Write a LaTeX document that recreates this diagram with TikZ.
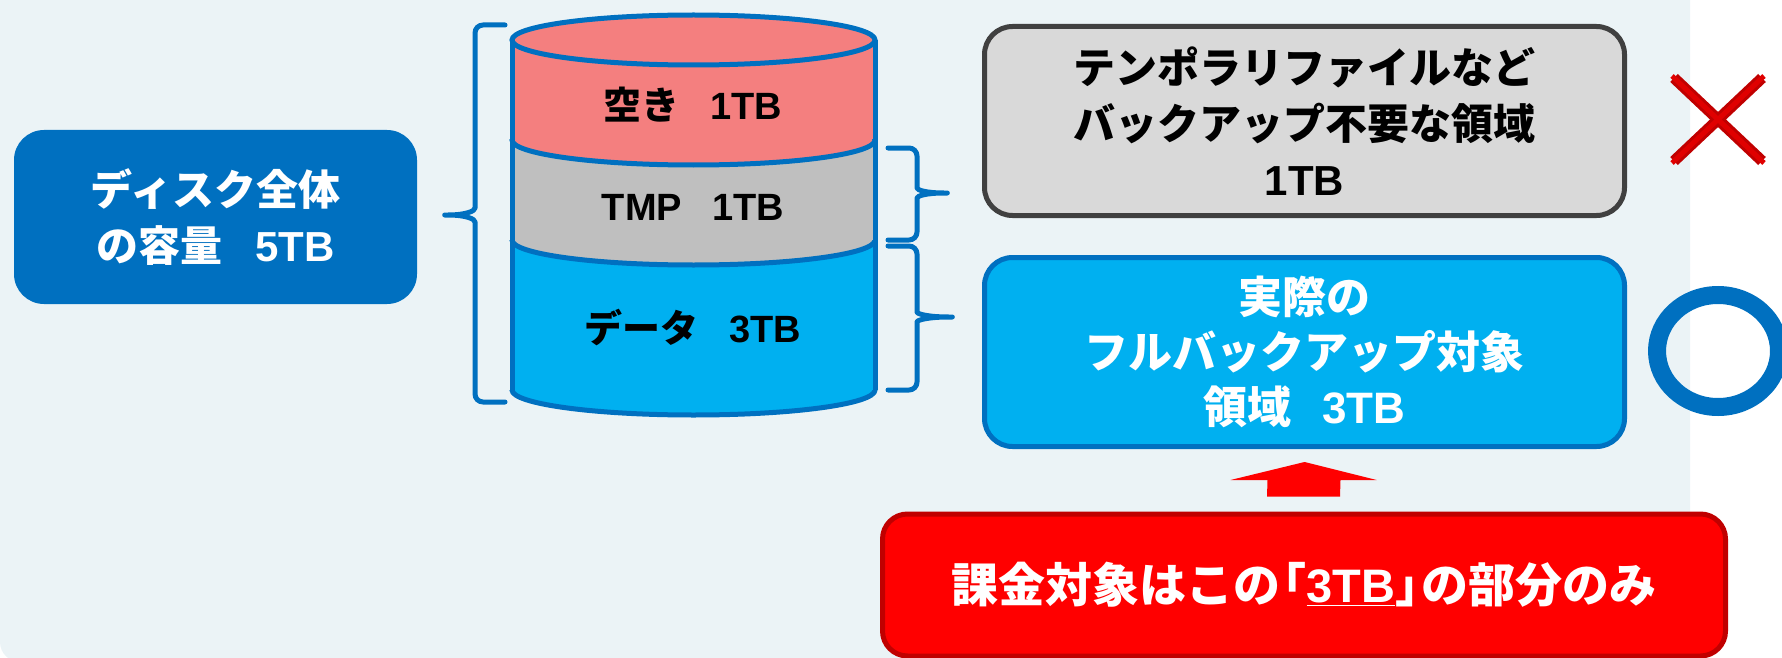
\documentclass[tikz,border=0pt]{standalone}
\usepackage{fontspec}
\setmainfont{Liberation Sans}
\newfontfamily\jp{Noto Sans CJK JP}
\usetikzlibrary{calc}
\definecolor{panel}{RGB}{235,243,246}
\definecolor{dblue}{RGB}{0,112,192}
\definecolor{lblue}{RGB}{0,176,240}
\definecolor{pinkband}{RGB}{244,127,127}
\definecolor{tmpgray}{RGB}{191,191,191}
\definecolor{boxgray}{RGB}{217,217,217}
\definecolor{edgegray}{RGB}{64,64,64}
\definecolor{dred}{RGB}{192,0,0}
\definecolor{bred}{RGB}{255,0,0}
\newcommand\J[1]{{\jp #1}}
\tikzset{
  boxtxt/.style={font=\bfseries\fontsize{42}{56}\selectfont, align=center},
  cyltxt/.style={font=\bfseries\fontsize{38}{44}\selectfont, align=center, text=black},
  cylline/.style={draw=dblue, line width=5pt},
  brk/.style={draw=dblue, line width=5pt, line cap=round, line join=round},
  infobox/.style={boxtxt, rounded corners=28pt, line width=5pt, minimum width=640pt, minimum height=189pt, inner sep=0pt}
}
\begin{document}
\begin{tikzpicture}[x=1pt,y=-1pt]
\useasboundingbox (0,0) rectangle (1782,658);
% background panel
\fill[panel] (0,0) -- (1690,0) -- (1690,662) -- (20,662) .. controls (9,662) and (0,653) .. (0,642) -- cycle;

% cylinder fills (layered)
\fill[lblue] (512,240) rectangle (875,390);
\fill[lblue] (693.5,390) ellipse [x radius=181.5, y radius=25];
\fill[tmpgray] (512,140) rectangle (875,240);
\fill[tmpgray] (693.5,240) ellipse [x radius=181.5, y radius=25];
\fill[pinkband] (512,40) rectangle (875,140);
\fill[pinkband] (693.5,140) ellipse [x radius=181.5, y radius=25];
\fill[pinkband] (693.5,40) ellipse [x radius=181.5, y radius=25];
% cylinder outlines
\draw[cylline] (512,40) -- (512,390);
\draw[cylline] (875,40) -- (875,390);
\draw[cylline] (693.5,40) ellipse [x radius=181.5, y radius=25];
\begin{scope}
  \clip (500,140) rectangle (890,175);
  \draw[cylline] (693.5,140) ellipse [x radius=181.5, y radius=25];
\end{scope}
\begin{scope}
  \clip (500,240) rectangle (890,275);
  \draw[cylline] (693.5,240) ellipse [x radius=181.5, y radius=25];
\end{scope}
\begin{scope}
  \clip (500,390) rectangle (890,425);
  \draw[cylline] (693.5,390) ellipse [x radius=181.5, y radius=25];
\end{scope}

% cylinder labels
\node[cyltxt] (free) at (693,105) {\J{空き}\hspace{0.8em}1TB};
\node[cyltxt] (tmp) at (693,207) {TMP\hspace{0.8em}1TB};
\node[cyltxt] (data) at (693,328) {\J{データ}\hspace{0.8em}3TB};

% left box
\node[boxtxt, text=white, fill=dblue, rounded corners=30pt, minimum width=403pt, minimum height=174pt, inner sep=0pt] (disk) at (215.5,217) {\J{ディスク全体}\\\J{の容量}\hspace{0.8em}5TB};

% left bracket
\coordinate (lbt) at (505,25);
\coordinate (lbb) at (505,402);
\coordinate (lbtip) at (440,215);
\draw[brk, rounded corners=8pt] (lbt) -- (475,25) -- (475,200)
  .. controls (475,211) and (466,215) .. (lbtip)
  .. controls (466,215) and (475,219) .. (475,230) -- (475,402) -- (lbb);

% right brackets
\coordinate (rbtip1) at (952,193);
\coordinate (rbtip2) at (957,317);
\draw[brk, rounded corners=8pt] (888,148) -- (917,148) -- (917,180)
  .. controls (917,190) and (926,193) .. (rbtip1)
  .. controls (926,193) and (917,196) .. (917,206) -- (917,240) -- (888,240);
\draw[brk, rounded corners=8pt] (888,246) -- (917,246) -- (917,304)
  .. controls (917,314) and (928,317) .. (rbtip2)
  .. controls (928,317) and (917,320) .. (917,330) -- (917,390) -- (888,390);

% right boxes
\node[infobox, fill=boxgray, draw=edgegray, text=black] (tmpbox) at (1304.5,121)
  {\J{テンポラリファイルなど}\\\J{バックアップ不要な領域}\\1TB};
\node[infobox, fill=lblue, draw=dblue, text=white, font=\bfseries\fontsize{44}{55}\selectfont] (full) at (1304.5,352)
  {\J{実際の}\\\J{フルバックアップ対象}\\\J{領域}\hspace{0.7em}3TB};

% billing box
\node[boxtxt, text=white, fill=bred, draw=dred, line width=5pt, rounded corners=25pt, minimum width=843pt, minimum height=142pt, inner sep=0pt, font=\bfseries\fontsize{47}{56}\selectfont] (bill) at (1304,585)
  {\J{課金対象はこの}\kern-0.45em\J{「}\underline{3TB}\J{」}\kern-0.45em\J{の部分のみ}};

% block arrow from bill to full
\coordinate (T) at ($(full.south)+(0,13)$);
\coordinate (B) at ($(bill.north)+(0,-15)$);
\fill[bred] (T) -- ($(T)+(72,18)$) -- ($(T)+(36,18)$) -- ($(B)+(36,0)$) -- ($(B)+(-37,0)$) -- ($(T)+(-37,18)$) -- ($(T)+(-74,18)$) -- cycle;

% cross mark
\draw[dred, line width=11pt] (1674,78) -- (1762,161);
\draw[dred, line width=11pt] (1762,78) -- (1674,161);
\draw[red!88!black, line width=5pt] (1672,76) -- (1764,163);
\draw[red!88!black, line width=5pt] (1764,76) -- (1672,163);

% circle mark
\draw[dblue, line width=18pt] (1718,351) ellipse [x radius=61, y radius=56];
\end{tikzpicture}
\end{document}
